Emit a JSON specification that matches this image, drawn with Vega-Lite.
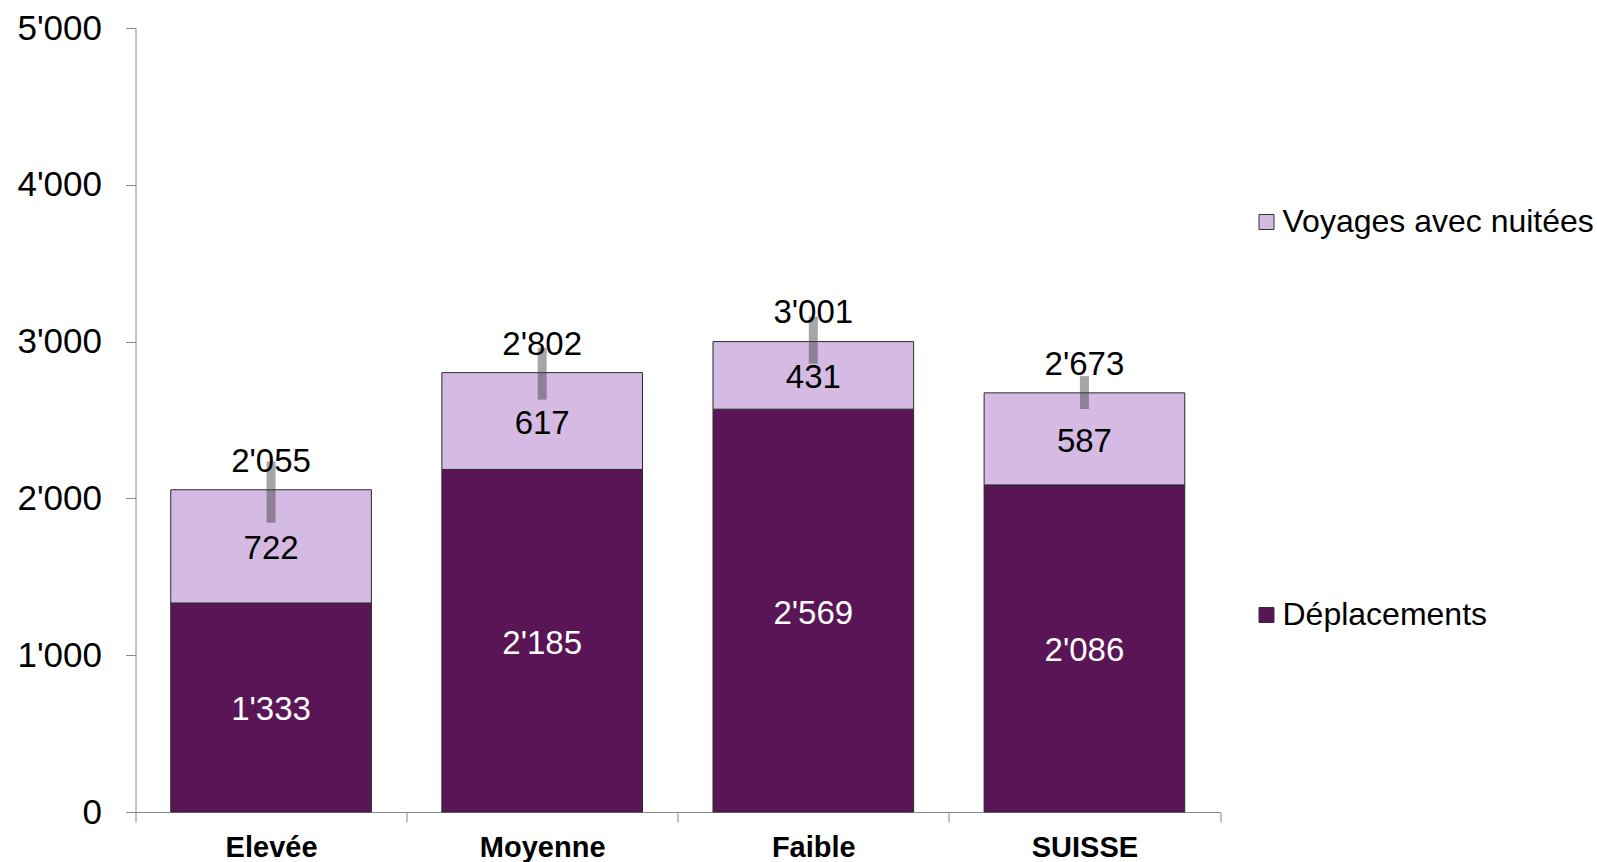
{
  "$schema": "https://vega.github.io/schema/vega-lite/v6.json",
  "autosize": "none",
  "padding": {"left": 135.5, "top": 28, "right": 377, "bottom": 50},
  "width": 1084.5,
  "height": 784,
  "background": "white",
  "config": {
    "locale": {"number": {"decimal": ".", "thousands": "'", "grouping": [3], "currency": ["", ""]}},
    "font": "Liberation Sans",
    "view": {"stroke": null}
  },
  "datasets": {
    "segments": [
      {"niveau": "Elevée", "type": "Déplacements", "rang": 1, "valeur": 1333, "bas": 0, "haut": 1333},
      {"niveau": "Elevée", "type": "Voyages avec nuitées", "rang": 2, "valeur": 722, "bas": 1333, "haut": 2055},
      {"niveau": "Moyenne", "type": "Déplacements", "rang": 1, "valeur": 2185, "bas": 0, "haut": 2185},
      {"niveau": "Moyenne", "type": "Voyages avec nuitées", "rang": 2, "valeur": 617, "bas": 2185, "haut": 2802},
      {"niveau": "Faible", "type": "Déplacements", "rang": 1, "valeur": 2569, "bas": 0, "haut": 2569},
      {"niveau": "Faible", "type": "Voyages avec nuitées", "rang": 2, "valeur": 431, "bas": 2569, "haut": 3000},
      {"niveau": "SUISSE", "type": "Déplacements", "rang": 1, "valeur": 2086, "bas": 0, "haut": 2086},
      {"niveau": "SUISSE", "type": "Voyages avec nuitées", "rang": 2, "valeur": 587, "bas": 2086, "haut": 2673}
    ],
    "totaux": [
      {"niveau": "Elevée", "total": 2055, "err_bas": 1845, "err_haut": 2235},
      {"niveau": "Moyenne", "total": 2802, "err_bas": 2630, "err_haut": 2960},
      {"niveau": "Faible", "total": 3001, "err_bas": 2860, "err_haut": 3160},
      {"niveau": "SUISSE", "total": 2673, "err_bas": 2570, "err_haut": 2780}
    ]
  },
  "encoding": {
    "x": {
      "field": "niveau",
      "type": "nominal",
      "sort": ["Elevée", "Moyenne", "Faible", "SUISSE"],
      "scale": {"paddingInner": 0, "paddingOuter": 0},
      "axis": {
        "title": null,
        "labelAngle": 0,
        "labelFont": "Liberation Sans",
        "labelFontSize": 29,
        "labelFontWeight": "bold",
        "labelColor": "black",
        "labelPadding": 11,
        "tickBand": "extent",
        "tickSize": 10,
        "tickColor": "#888888",
        "domainColor": "#888888",
        "ticks": true,
        "grid": false
      }
    }
  },
  "layer": [
    {
      "data": {"name": "segments"},
      "mark": {"type": "bar", "stroke": "#2a2a2a", "strokeWidth": 1, "width": {"band": 0.74}},
      "encoding": {
        "y": {
          "field": "bas",
          "type": "quantitative",
          "scale": {"domain": [0, 5000], "nice": false},
          "axis": {
            "title": null,
            "values": [0, 1000, 2000, 3000, 4000, 5000],
            "format": ",d",
            "labelFont": "Liberation Sans",
            "labelFontSize": 35,
            "labelColor": "black",
            "labelPadding": 24,
            "tickSize": 10,
            "tickColor": "#888888",
            "domainColor": "#888888",
            "grid": false
          }
        },
        "y2": {"field": "haut"},
        "color": {
          "field": "type",
          "type": "nominal",
          "scale": {"domain": ["Voyages avec nuitées", "Déplacements"], "range": ["#d5bbe4", "#5a1556"]},
          "legend": {
            "title": null,
            "orient": "none",
            "legendX": 1115,
            "legendY": 178,
            "symbolType": "square",
            "symbolSize": 225,
            "symbolStrokeColor": "#333333",
            "symbolStrokeWidth": 1,
            "labelFont": "Liberation Sans",
            "labelFontSize": 32,
            "labelColor": "black",
            "labelOffset": 0,
            "labelLimit": 0,
            "rowPadding": 361
          }
        },
        "order": {"field": "rang", "type": "quantitative"}
      }
    },
    {
      "data": {"name": "segments"},
      "transform": [{"calculate": "(datum.bas + datum.haut) / 2", "as": "milieu"}],
      "mark": {"type": "text", "font": "Liberation Sans", "fontSize": 33, "baseline": "middle", "align": "center", "dy": 3},
      "encoding": {
        "y": {"field": "milieu", "type": "quantitative"},
        "text": {"field": "valeur", "type": "quantitative", "format": ",d"},
        "color": {
          "field": "type",
          "type": "nominal",
          "scale": {"domain": ["Voyages avec nuitées", "Déplacements"], "range": ["black", "white"]},
          "legend": null
        }
      }
    },
    {
      "data": {"name": "totaux"},
      "mark": {"type": "bar", "size": 9, "color": "#3a3a3a", "opacity": 0.45},
      "encoding": {
        "y": {"field": "err_bas", "type": "quantitative"},
        "y2": {"field": "err_haut"}
      }
    },
    {
      "data": {"name": "totaux"},
      "mark": {"type": "text", "font": "Liberation Sans", "fontSize": 33, "baseline": "alphabetic", "align": "center", "dy": -18, "color": "black"},
      "encoding": {
        "y": {"field": "total", "type": "quantitative"},
        "text": {"field": "total", "type": "quantitative", "format": ",d"}
      }
    }
  ],
  "resolve": {"scale": {"color": "independent"}}
}
